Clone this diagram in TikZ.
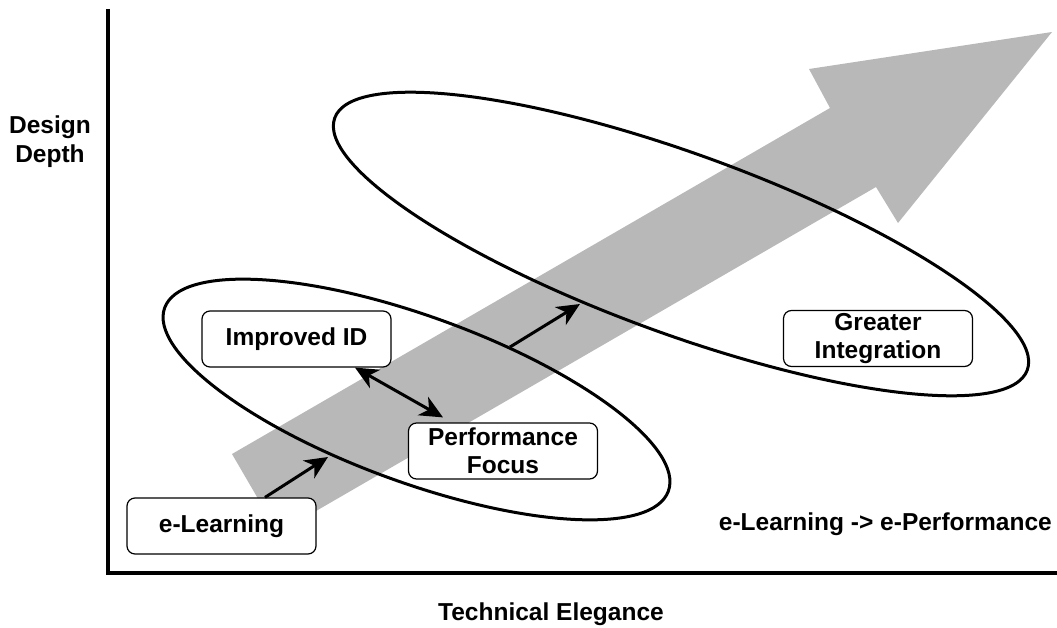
\documentclass[tikz,border=0pt]{standalone}
\usepackage{fontspec}
\setmainfont{Liberation Sans}
\usetikzlibrary{arrows.meta,shapes.geometric}

\begin{document}
\begin{tikzpicture}[x=1pt,y=-1pt,>={Stealth[length=23pt,width=21pt,inset=7pt]},
	box/.style={draw,line width=1.2pt,rounded corners=8pt,fill=white,
		minimum width=189pt,minimum height=56pt,align=center,inner sep=0pt,
		font=\bfseries\fontsize{24.5}{28}\selectfont},
	ring/.style={draw,ellipse,line width=3pt,inner sep=0pt},
	link/.style={->,line width=3pt},
	caption/.style={inner sep=0pt,align=center,
		font=\bfseries\fontsize{24.5}{29}\selectfont}]

\definecolor{arrowgray}{rgb}{0.72,0.72,0.72}

\useasboundingbox (0,0) rectangle (1057,628);

\fill[color=arrowgray] (232,454) -- (830,108) -- (809,69) -- (1052,32)
	-- (898,223) -- (876,187) -- (278,533) -- cycle;

\coordinate (origin) at (108,573);
\draw[line width=3.5pt] (108,9) -- (origin) -- (1057,573);

\node (smallring) at (416.5,399.5) [ring,minimum width=536pt,minimum height=166pt,rotate=-20] {};
\node (bigring) at (681,244) [ring,minimum width=737pt,minimum height=180pt,rotate=-20] {};

\node (elearn) at (221.5,526) [box] {e-Learning};
\node (improved) at (296.5,339) [box] {Improved ID};
\node (perf) at (503,451) [box] {Performance\\Focus};
\node (greater) at (878,338.5) [box] {Greater\\Integration};

\coordinate (s1) at (328,457);
\coordinate (s2) at (510,347);
\coordinate (b1) at (580,304);

\draw[link] ([xshift=43.5pt]elearn.north) -- (s1);
\draw[link,<->] ([xshift=58.5pt]improved.south) -- ([xshift=-60pt,yshift=5pt]perf.north);
\draw[link] (s2) -- (b1);

\node (ylabel) at (50,142) [caption] {Design\\Depth};
\node (xlabel) at (551,620) [caption,anchor=base] {Technical Elegance};
\node (trend) at (1052,530) [caption,anchor=base east] {e-Learning -> e-Performance};

\end{tikzpicture}
\end{document}
